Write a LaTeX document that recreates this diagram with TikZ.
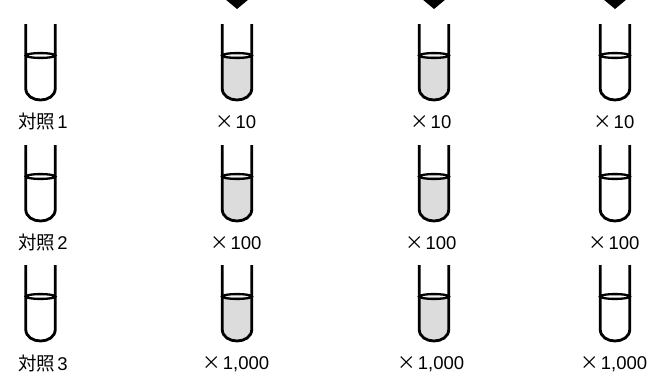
\documentclass[tikz,border=0pt]{standalone}
\usepackage{fontspec}
\setmainfont{Liberation Sans}
\newfontfamily\jp{Noto Sans CJK JP}
\definecolor{liquid}{HTML}{DCDCDC}
% one test tube: #1 = centre x, #2 = top y, #3 = liquid fill colour
\newcommand{\testtube}[3]{%
  \pgfmathsetmacro{\tl}{#1-14.8}%
  \pgfmathsetmacro{\tr}{#1+14.8}%
  \pgfmathsetmacro{\tc}{#2+64}%
  \pgfmathsetmacro{\tcc}{#2+80}%
  \pgfmathsetmacro{\ts}{#2+31.5}%
  \fill[#3] (\tl,\ts) -- (\tl,\tc) .. controls (\tl,\tcc) and (\tr,\tcc) .. (\tr,\tc) -- (\tr,\ts) -- cycle;
  \draw[tubewall] (\tl,#2) -- (\tl,\tc) .. controls (\tl,\tcc) and (\tr,\tcc) .. (\tr,\tc) -- (\tr,#2);
  \draw[surface] (#1,\ts) ellipse [x radius=14.8, y radius=2.4];
}
% dilution factor label
\newcommand{\dil}[1]{{\jp ×}\kern1.5pt#1}
% control label
\newcommand{\ctl}[1]{{\jp 対照}\kern2pt#1}
\begin{document}
\begin{tikzpicture}[x=1pt,y=-1pt,
  tubewall/.style={line width=2.8pt, line join=round},
  surface/.style={line width=2.3pt},
  label/.style={font=\fontsize{18.5}{22}\selectfont, inner sep=0pt},
  marker/.style={fill=black}]
\useasboundingbox (0,0) rectangle (659,383);

% drop markers above the diluted columns
\foreach \cx in {237,434,615}
  \fill[marker] (\cx-12,-1) -- (\cx+12,-1) -- (\cx,9) -- cycle;

% control column
\testtube{40.5}{24}{white}
\testtube{40.5}{145}{white}
\testtube{40.5}{265}{white}
% diluted columns
\foreach \cx/\col in {237/liquid,434/liquid,615/white} {
  \testtube{\cx}{24}{\col}
  \testtube{\cx}{145}{\col}
  \testtube{\cx}{265}{\col}
}

\node[label] (c1) at (43,122) {\ctl{1}};
\node[label] (c2) at (43,243) {\ctl{2}};
\node[label] (c3) at (43,364) {\ctl{3}};

\node[label] (a1) at (236,122) {\dil{10}};
\node[label] (a2) at (236,243) {\dil{100}};
\node[label] (a3) at (236,364) {\dil{1,000}};
\node[label] (b1) at (431,122) {\dil{10}};
\node[label] (b2) at (431,243) {\dil{100}};
\node[label] (b3) at (431,364) {\dil{1,000}};
\node[label] (d1) at (614,122) {\dil{10}};
\node[label] (d2) at (614,243) {\dil{100}};
\node[label] (d3) at (614,364) {\dil{1,000}};
\end{tikzpicture}
\end{document}
